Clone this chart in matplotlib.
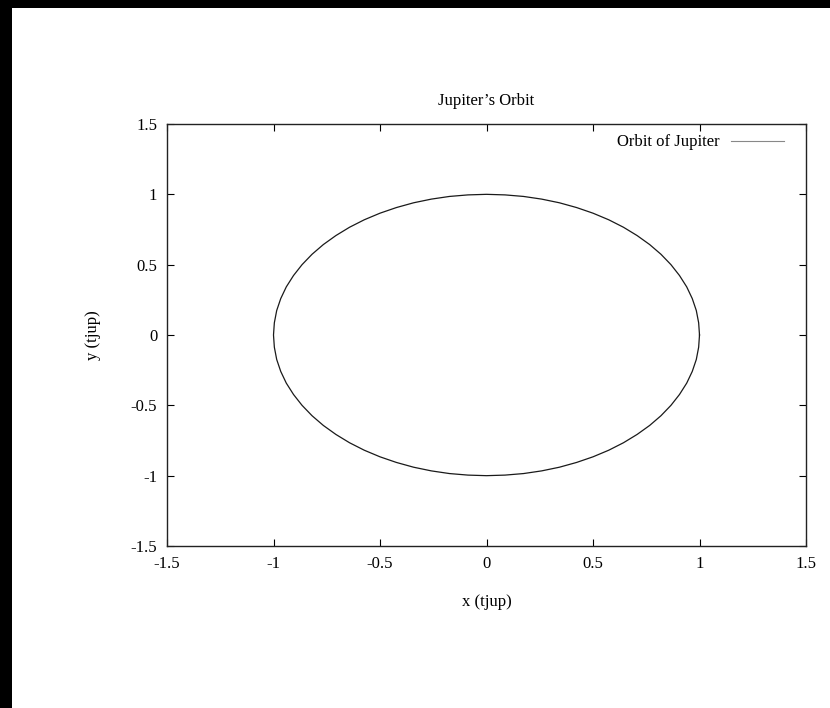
import matplotlib
matplotlib.use("Agg")
import matplotlib.pyplot as plt
from matplotlib.patches import Rectangle

# Orbit points (x, y in tjup units)
orbit_x = [1.000, 0.996, 0.985, 0.966, 0.940, 0.906, 0.866, 0.819, 0.766, 0.707,
           0.643, 0.574, 0.500, 0.423, 0.342, 0.259, 0.174, 0.087, 0.000,
           -0.087, -0.174, -0.259, -0.342, -0.423, -0.500, -0.574, -0.643, -0.707,
           -0.766, -0.819, -0.866, -0.906, -0.940, -0.966, -0.985, -0.996, -1.000,
           -0.996, -0.985, -0.966, -0.940, -0.906, -0.866, -0.819, -0.766, -0.707,
           -0.643, -0.574, -0.500, -0.423, -0.342, -0.259, -0.174, -0.087, 0.000,
           0.087, 0.174, 0.259, 0.342, 0.423, 0.500, 0.574, 0.643, 0.707,
           0.766, 0.819, 0.866, 0.906, 0.940, 0.966, 0.985, 0.996, 1.000]
orbit_y = [0.000, 0.087, 0.174, 0.259, 0.342, 0.423, 0.500, 0.574, 0.643, 0.707,
           0.766, 0.819, 0.866, 0.906, 0.940, 0.966, 0.985, 0.996, 1.000,
           0.996, 0.985, 0.966, 0.940, 0.906, 0.866, 0.819, 0.766, 0.707,
           0.643, 0.574, 0.500, 0.423, 0.342, 0.259, 0.174, 0.087, 0.000,
           -0.087, -0.174, -0.259, -0.342, -0.423, -0.500, -0.574, -0.643, -0.707,
           -0.766, -0.819, -0.866, -0.906, -0.940, -0.966, -0.985, -0.996, -1.000,
           -0.996, -0.985, -0.966, -0.940, -0.906, -0.866, -0.819, -0.766, -0.707,
           -0.643, -0.574, -0.500, -0.423, -0.342, -0.259, -0.174, -0.087, 0.000]
tick_values = [-1.5, -1, -0.5, 0, 0.5, 1, 1.5]
tick_labels = ["-1.5", "-1", "-0.5", "0", "0.5", "1", "1.5"]

plt.rcParams['font.family'] = ['Liberation Serif', 'DejaVu Serif']
plt.rcParams['font.size'] = 12

fig = plt.figure(figsize=(8.30, 7.08), dpi=100)
fig.patch.set_facecolor('black')
bg = Rectangle((12/830, 0), 1 - 12/830, 1 - 8/708,
               transform=fig.transFigure, facecolor='white',
               edgecolor='none', zorder=-10)
fig.add_artist(bg)

ax = fig.add_axes([167/830, 1 - 546/708, (806 - 167)/830, (546 - 124)/708])
ax.set_zorder(5)
ax.set_facecolor('white')
ax.plot(orbit_x, orbit_y, color='#1a1a1a', linewidth=0.9, label='Orbit of Jupiter')

ax.set_xlim(-1.5, 1.5)
ax.set_ylim(-1.5, 1.5)
ax.set_xticks(tick_values)
ax.set_xticklabels(tick_labels)
ax.set_yticks(tick_values)
ax.set_yticklabels(tick_labels)
ax.tick_params(direction='in', length=5, width=0.8, top=True, right=True,
               pad=7, labelsize=12, colors='black')
for s in ax.spines.values():
    s.set_linewidth(1.0)
    s.set_color('#222222')

ax.set_title("Jupiter’s Orbit", fontsize=12, pad=14)
ax.set_xlabel("x (tjup)", fontsize=12, labelpad=16)
ax.set_ylabel("y (tjup)", fontsize=12, labelpad=21.5)

leg = ax.legend(loc='upper right', bbox_to_anchor=(0.9656, 0.9755),
                frameon=False, markerfirst=False, borderpad=0,
                handlelength=3.2, fontsize=12, borderaxespad=0,
                handletextpad=0.65)
for line in leg.get_lines():
    line.set_color('#888888')
    line.set_linewidth(0.8)

fig.savefig('out.png', dpi=100, facecolor=fig.get_facecolor())
